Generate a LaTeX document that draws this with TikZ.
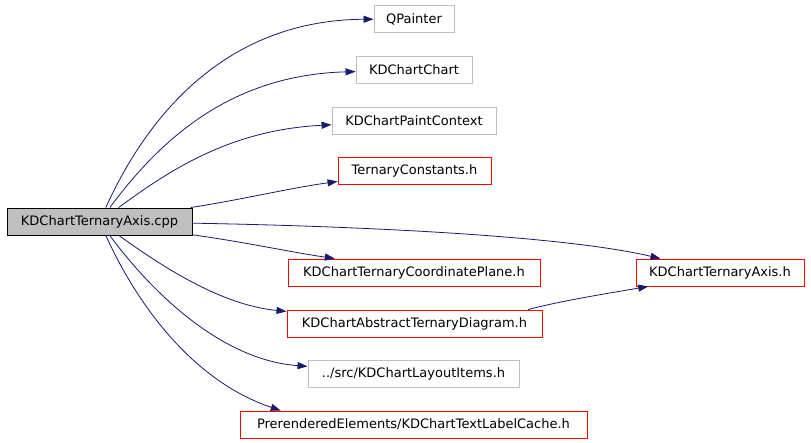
\documentclass[tikz,border=0pt]{standalone}
\usepackage{fontspec}
\setmainfont{DejaVu Sans}
\usetikzlibrary{arrows.meta}
\definecolor{edgeblue}{HTML}{191970}
\definecolor{boxgray}{HTML}{BFBFBF}
\begin{document}
\begin{tikzpicture}[x=1pt,y=-1pt,
  box/.style={draw, rectangle, inner sep=0pt, minimum height=27pt,
    font=\fontsize{13pt}{15pt}\selectfont, line width=0.9pt},
  graybox/.style={box, draw=boxgray},
  redbox/.style={box, draw=red},
  rootbox/.style={box, draw=black, fill=boxgray},
  edge/.style={draw=edgeblue, line width=0.8pt, -{Triangle[length=10pt,width=7pt]}}
]
\useasboundingbox[fill=white] (0,0) rectangle (811,443);

\node[rootbox, minimum width=185pt] (cpp) at (99.5,221.5) {KDChartTernaryAxis.cpp};
\node[graybox, minimum width=80pt]  (qp)  at (414,19)    {QPainter};
\node[graybox, minimum width=116pt] (ch)  at (414,70)    {KDChartChart};
\node[graybox, minimum width=164pt] (pc)  at (414,120.5) {KDChartPaintContext};
\node[redbox,  minimum width=153pt] (tc)  at (414.5,171) {TernaryConstants.h};
\node[redbox,  minimum width=168pt] (ax)  at (720,272.5) {KDChartTernaryAxis.h};
\node[redbox,  minimum width=252pt] (cp)  at (414,272.5) {KDChartTernaryCoordinatePlane.h};
\node[redbox,  minimum width=255pt] (ab)  at (414.5,323.5) {KDChartAbstractTernaryDiagram.h};
\node[graybox, minimum width=211pt] (li)  at (413.5,374) {../src/KDChartLayoutItems.h};
\node[redbox,  minimum width=347pt] (lc)  at (413.5,424.5) {PrerenderedElements/KDChartTextLabelCache.h};

\draw[edge] (cpp) .. controls (150,110) and (230,20) .. (qp);
\draw[edge] (cpp) .. controls (160,140) and (230,75) .. (ch);
\draw[edge] (cpp) .. controls (170,170) and (230,130) .. (pc);
\draw[edge] (cpp) .. controls (240,200) and (290,188) .. (tc);
\draw[edge] (cpp) .. controls (350,226) and (560,235) .. (ax);
\draw[edge] (cpp) .. controls (250,243) and (290,252) .. (cp.170.8);
\draw[edge] (cpp) .. controls (160,265) and (220,305) .. (ab);
\draw[edge] (cpp) .. controls (150,290) and (220,360) .. (li);
\draw[edge] (cpp) .. controls (135,300) and (190,380) .. (lc.174.9);
\draw[edge] (ab.7.8) .. controls (560,301) and (610,293) .. (ax.191.4);
\end{tikzpicture}
\end{document}
